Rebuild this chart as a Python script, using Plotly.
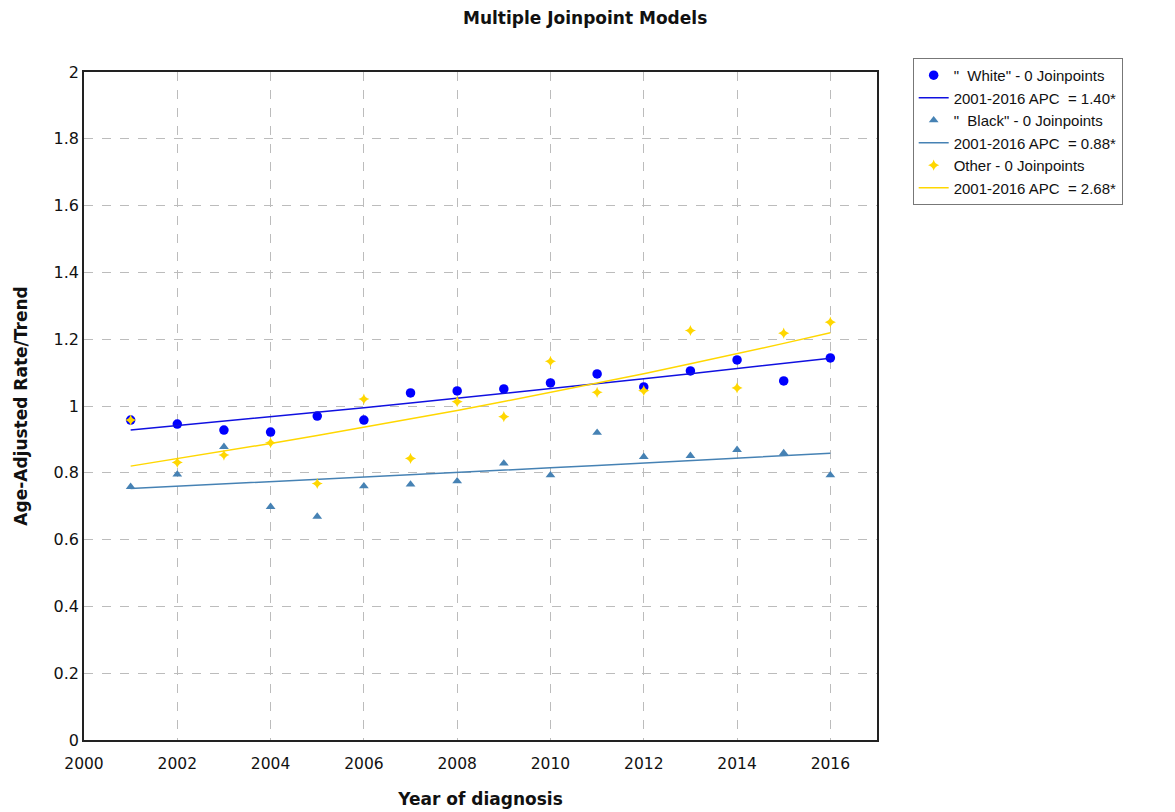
import plotly.graph_objects as go

years = list(range(2001, 2017))

white_rate = [0.958, 0.946, 0.928, 0.922, 0.970, 0.958, 1.039, 1.045,
              1.051, 1.069, 1.096, 1.057, 1.105, 1.138, 1.075, 1.144]
black_rate = [0.758, 0.795, 0.878, 0.698, 0.669, 0.760, 0.765, 0.775,
              0.828, 0.793, 0.920, 0.848, 0.851, 0.869, 0.859, 0.793]
other_rate = [0.958, 0.831, 0.853, 0.890, 0.768, 1.021, 0.843, 1.013,
              0.968, 1.134, 1.041, 1.046, 1.226, 1.054, 1.218, 1.251]

# Fitted joinpoint models (0 joinpoints): start value in 2001 and annual percent change
white_start, white_apc = 0.928, 1.40
black_start, black_apc = 0.753, 0.88
other_start, other_apc = 0.820, 2.68


def trend(start, apc):
    return [start * (1 + apc / 100) ** (y - years[0]) for y in years]


WHITE = "#0000ff"
BLACK = "#4682b4"
OTHER = "#ffd700"

fig = go.Figure()

series = [
    ('"  White" - 0 Joinpoints', white_rate, WHITE, "circle", 9.5, white_start, white_apc, "#1010e0"),
    ('"  Black" - 0 Joinpoints', black_rate, BLACK, "triangle-up", 8.5, black_start, black_apc, BLACK),
    ("Other - 0 Joinpoints", other_rate, OTHER, "star-diamond", 8, other_start, other_apc, OTHER),
]

for name, rate, color, symbol, size, start, apc, lcolor in series:
    fig.add_trace(go.Scatter(
        x=years, y=rate, mode="markers", name=name,
        marker=dict(color=color, symbol=symbol, size=size, line=dict(width=0)),
    ))
    fig.add_trace(go.Scatter(
        x=years, y=trend(start, apc), mode="lines",
        name=f"2001-2016 APC  = {apc:.2f}*",
        line=dict(color=lcolor, width=1.5),
    ))

FONT = "DejaVu Sans, Verdana, sans-serif"
title_font = dict(family=FONT, size=17, color="#111")

fig.update_layout(
    width=1175, height=812,
    margin=dict(l=84, r=298, t=72, b=72),
    paper_bgcolor="white", plot_bgcolor="white",
    title=dict(text="<b>Multiple Joinpoint Models</b>", x=0.498, xanchor="center",
               y=0.978, yanchor="middle",
               font=dict(family=FONT, size=17, color="#111")),
    xaxis=dict(
        range=[2000, 2017], tickmode="array", tickvals=list(range(2000, 2017, 2)),
        ticktext=[str(v) for v in range(2000, 2017, 2)],
        showgrid=True, gridcolor="#bcbcbc", griddash="dash", gridwidth=1,
        showline=True, linecolor="#222", linewidth=1.5, mirror=True,
        ticks="", tickfont=dict(family=FONT, size=15.5, color="#111"), zeroline=False,
        ticklabelstandoff=9, automargin=False,
        title=dict(text="<b>Year of diagnosis</b>", font=title_font, standoff=21),
    ),
    yaxis=dict(
        range=[0, 2], tickmode="array", tickvals=[i / 5 for i in range(11)],
        ticktext=["0", "0.2", "0.4", "0.6", "0.8", "1", "1.2", "1.4", "1.6", "1.8", "2"],
        showgrid=True, gridcolor="#bcbcbc", griddash="dash", gridwidth=1,
        showline=True, linecolor="#222", linewidth=1.5, mirror=True,
        ticks="", tickfont=dict(family=FONT, size=16, color="#111"), zeroline=False,
        automargin=False,
        title=dict(text="<b>Age-Adjusted Rate/Trend</b>", font=title_font, standoff=22),
    ),
    legend=dict(
        x=1.045, y=1.021, xanchor="left", yanchor="top",
        bordercolor="#777", borderwidth=1, bgcolor="white",
        font=dict(family="Liberation Sans, Arial, sans-serif", size=15, color="#111"),
        tracegroupgap=0, itemwidth=30,
    ),
    showlegend=True,
)

fig.write_html("out.html")
